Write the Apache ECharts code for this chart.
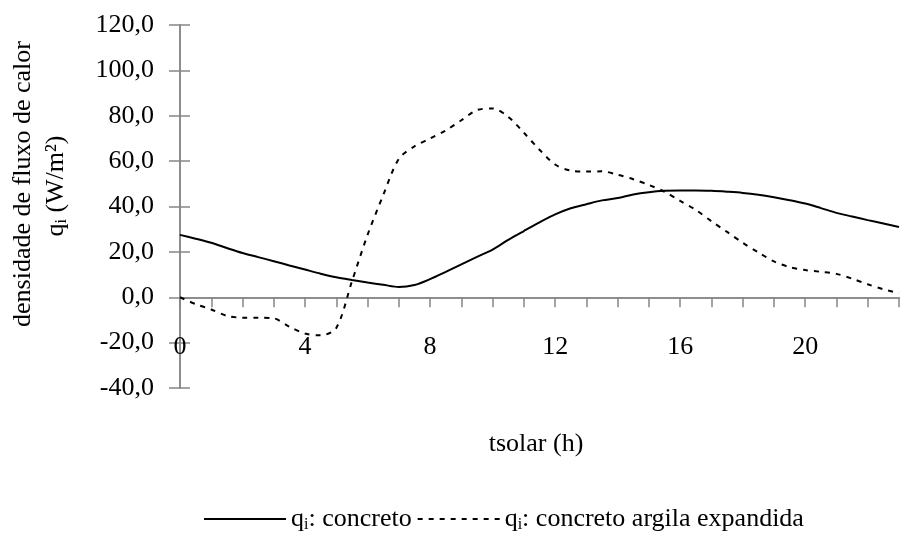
<!DOCTYPE html>
<html>
<head>
<meta charset="utf-8">
<script src="https://cdn.jsdelivr.net/npm/echarts@6/dist/echarts.min.js"></script>
<style>
  html, body { margin: 0; padding: 0; background: #fff; }
  #chart { width: 902px; height: 535px; }
</style>
</head>
<body>
<div id="chart"></div>
<script>
// Solar time (h), half-hour steps
const hours = [
  0, 0.5, 1, 1.5, 2, 2.5, 3, 3.5, 4, 4.5, 5, 5.5, 6, 6.5, 7, 7.5, 8, 8.5, 9, 9.5,
  10, 10.5, 11, 11.5, 12, 12.5, 13, 13.5, 14, 14.5, 15, 15.5, 16, 16.5, 17, 17.5,
  18, 18.5, 19, 19.5, 20, 20.5, 21, 21.5, 22, 22.5, 23
];

// Heat flux density q_i (W/m²) – plain concrete slab
const qConcreto = [
  27.5, 25.8, 24.0, 21.7, 19.5, 17.7, 15.9, 14.0, 12.2, 10.4, 8.8, 7.6, 6.5, 5.5,
  4.5, 5.4, 8.0, 11.2, 14.5, 17.8, 21.0, 25.3, 29.2, 33.0, 36.5, 39.2, 41.0, 42.7,
  43.7, 45.3, 46.3, 46.9, 47.1, 47.1, 46.9, 46.5, 46.0, 45.2, 44.1, 42.8, 41.3,
  39.3, 37.2, 35.6, 34.0, 32.5, 31.0
];

// Heat flux density q_i (W/m²) – expanded clay concrete slab
const qArgila = [
  0.0, -3.0, -5.4, -8.2, -9.0, -9.0, -9.3, -13.0, -16.0, -16.8, -13.5, 7.0, 27.5,
  45.0, 61.0, 66.5, 70.0, 73.5, 78.0, 82.5, 83.2, 79.5, 72.5, 65.0, 58.5, 55.8,
  55.4, 55.5, 54.0, 52.0, 49.5, 46.5, 42.5, 38.5, 33.5, 28.8, 24.0, 19.8, 15.8,
  13.3, 12.0, 11.2, 10.3, 8.2, 5.7, 3.5, 1.8
];

const seriesNames = ['concreto', 'concreto argila expandida'];
const yTitle = ['densidade de fluxo de calor', 'q{s|i} (W/m²)'];
const xTitle = 'tsolar (h)';

const FONT = "'Liberation Serif', 'Times New Roman', serif";
const AXIS_COLOR = '#868686';

const pairs = (ys) => hours.map((h, i) => [h, ys[i]]);
const subRich = {
  s: { fontFamily: FONT, fontSize: 16, color: '#000', padding: [12, 0, 0, 0] }
};

const chart = echarts.init(document.getElementById('chart'), null, { renderer: 'canvas' });

const tickStyle = { color: AXIS_COLOR, width: 1.5 };
const lineAxis = { show: true, lineStyle: { color: AXIS_COLOR, width: 1.5 } };

// Each axis is drawn twice (outer ticks + inner ticks) so the ticks cross the axis line
const yBase = { type: 'value', min: -40, max: 120, interval: 20, splitLine: { show: false } };
const xBase = { type: 'value', min: 0, max: 23, interval: 1, splitLine: { show: false } };

chart.setOption({
  animation: false,
  backgroundColor: '#fff',
  textStyle: { fontFamily: FONT },
  grid: { left: 180, top: 25, right: 0, bottom: 147, containLabel: false },
  xAxis: [
    Object.assign({}, xBase, {
      axisLine: Object.assign({ onZero: true, onZeroAxisIndex: 0 }, lineAxis),
      axisTick: { show: true, inside: false, length: 10, lineStyle: tickStyle },
      axisLabel: { show: false }
    }),
    Object.assign({}, xBase, {
      axisLine: Object.assign({ onZero: true, onZeroAxisIndex: 1 }, lineAxis),
      axisTick: { show: true, inside: true, length: 10, lineStyle: tickStyle },
      axisLabel: { show: false }
    }),
    // hour labels, set low beneath the zero line
    Object.assign({}, xBase, {
      position: 'bottom', offset: -58,
      axisLine: { show: false, onZero: false },
      axisTick: { show: false },
      axisLabel: {
        show: true, margin: 4, color: '#000', fontFamily: FONT, fontSize: 26,
        showMinLabel: true, showMaxLabel: true,
        formatter: (v) => (v % 4 === 0 ? String(v) : '')
      }
    })
  ],
  yAxis: [
    Object.assign({}, yBase, {
      position: 'left',
      axisLine: Object.assign({ onZero: false }, lineAxis),
      axisTick: { show: true, inside: false, length: 11, lineStyle: tickStyle },
      axisLabel: {
        show: true, margin: 26, color: '#000', fontFamily: FONT, fontSize: 26,
        formatter: (v) => v.toFixed(1).replace('.', ',')
      }
    }),
    Object.assign({}, yBase, {
      position: 'left', offset: 0,
      axisLine: Object.assign({ onZero: false }, lineAxis),
      axisTick: { show: true, inside: true, length: 10, lineStyle: tickStyle },
      axisLabel: { show: false }
    })
  ],
  legend: {
    left: 198, top: 501,
    itemWidth: 82, itemHeight: 2, itemGap: 5,
    data: seriesNames,
    itemStyle: { color: 'rgba(0,0,0,0)', borderColor: 'rgba(0,0,0,0)', borderWidth: 0 },
    formatter: (name) => 'q{s|i}: ' + name,
    textStyle: { fontFamily: FONT, fontSize: 26, color: '#000', rich: subRich }
  },
  series: [
    {
      name: seriesNames[0], type: 'line', xAxisIndex: 0, yAxisIndex: 0,
      data: pairs(qConcreto), smooth: 0.3, symbol: 'none',
      lineStyle: { color: '#000', width: 2, type: 'solid' },
      itemStyle: { color: '#000' }
    },
    {
      name: seriesNames[1], type: 'line', xAxisIndex: 0, yAxisIndex: 0,
      data: pairs(qArgila), smooth: 0.3, symbol: 'none',
      lineStyle: { color: '#000', width: 2, type: [5, 6] },
      itemStyle: { color: '#000' }
    }
  ],
  graphic: [
    {
      type: 'text', x: 23, y: 184, rotation: Math.PI / 2,
      style: {
        text: yTitle[0], fontFamily: FONT, fontSize: 26, fill: '#000',
        align: 'center', verticalAlign: 'middle'
      }
    },
    {
      type: 'text', x: 56, y: 186, rotation: Math.PI / 2,
      style: {
        text: yTitle[1], fontFamily: FONT, fontSize: 26, fill: '#000',
        align: 'center', verticalAlign: 'middle', rich: subRich
      }
    },
    {
      type: 'text', x: 536, y: 444,
      style: {
        text: xTitle, fontFamily: FONT, fontSize: 26, fill: '#000',
        align: 'center', verticalAlign: 'middle'
      }
    }
  ]
});
</script>
</body>
</html>
